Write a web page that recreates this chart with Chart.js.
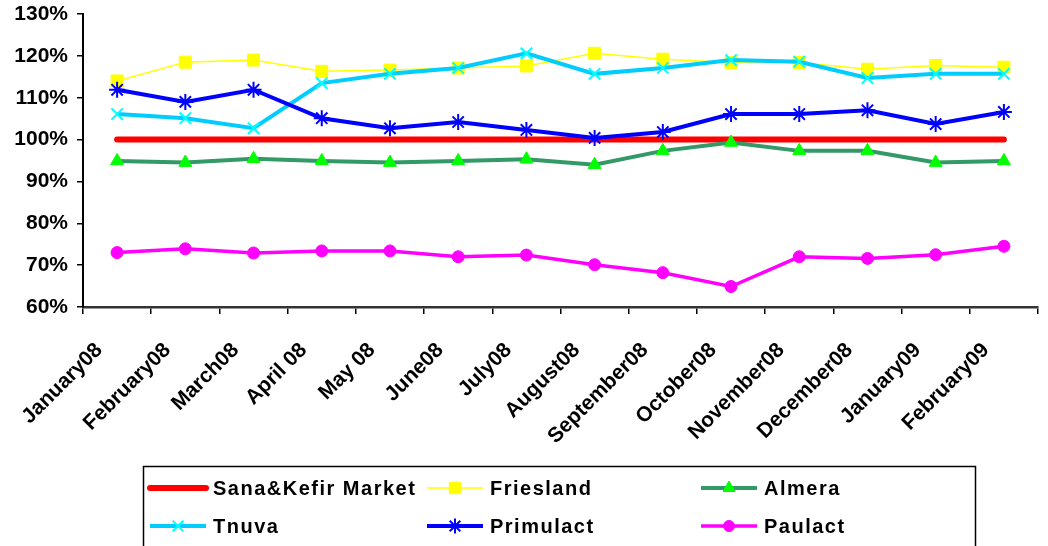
<!DOCTYPE html>
<html>
<head>
<meta charset="utf-8">
<script src="https://cdn.jsdelivr.net/npm/chart.js@4"></script>
<style>
  html, body { margin: 0; padding: 0; background: #fff; }
  #wrap { width: 1048px; height: 546px; }
</style>
</head>
<body>
<div id="wrap"><canvas id="chart" width="1048" height="546"></canvas></div>
<script>
// ---------- Data ----------
const months = [
  "January08", "February08", "March08", "April 08", "May 08", "June08", "July08",
  "August08", "September08", "October08", "November08", "December08", "January09", "February09"
];
const market    = [100, 100, 100, 100, 100, 100, 100, 100, 100, 100, 100, 100, 100, 100];
const friesland = [114.0, 118.5, 119.0, 116.3, 116.6, 117.1, 117.6, 120.6, 119.2, 118.4, 118.4, 116.8, 117.7, 117.3];
const almera    = [94.9, 94.5, 95.4, 94.9, 94.5, 94.9, 95.3, 94.0, 97.3, 99.3, 97.3, 97.3, 94.5, 94.9];
const tnuva     = [106.1, 105.1, 102.7, 113.5, 115.7, 117.1, 120.6, 115.7, 117.1, 119.0, 118.6, 114.7, 115.7, 115.7];
const primulact = [111.9, 109.0, 111.9, 105.1, 102.7, 104.2, 102.3, 100.4, 101.8, 106.1, 106.1, 107.0, 103.7, 106.6];
const paulact   = [73.0, 73.9, 72.9, 73.4, 73.4, 72.0, 72.4, 70.1, 68.2, 64.9, 72.0, 71.6, 72.5, 74.5];

const FONT = "'Liberation Sans', Arial, sans-serif";

// ---------- Legend (drawn in canvas, Excel style box) ----------
const boxLegend = {
  id: "boxLegend",
  afterDraw(chart) {
    const ctx = chart.ctx;
    ctx.save();
    ctx.strokeStyle = "#000";
    ctx.lineWidth = 1.5;
    ctx.strokeRect(143.5, 466.5, 832, 100);

    const cols = [150, 427, 701];
    const rows = [488, 526];
    // legend entries follow dataset order, 3 per row
    chart.data.datasets.forEach((ds, i) => {
      const x = cols[i % 3], y = rows[Math.floor(i / 3)];
      ctx.strokeStyle = ds.borderColor;
      ctx.lineWidth = ds.borderWidth;
      ctx.lineCap = ds.borderCapStyle || "butt";
      ctx.beginPath();
      ctx.moveTo(x, y);
      ctx.lineTo(x + 56, y);
      ctx.stroke();
      if (ds.pointRadius > 0) {
        ctx.fillStyle = ds.pointBackgroundColor;
        ctx.strokeStyle = ds.pointBorderColor;
        ctx.lineWidth = ds.pointBorderWidth;
        Chart.helpers.drawPoint(ctx, {
          pointStyle: ds.pointStyle, radius: ds.pointRadius - 0.5,
          rotation: 0, borderWidth: ds.pointBorderWidth
        }, x + 28, y);
      }
      ctx.fillStyle = "#000";
      ctx.font = "bold 20px " + FONT;
      ctx.letterSpacing = "1.5px";
      ctx.textBaseline = "middle";
      ctx.textAlign = "left";
      ctx.fillText(ds.label, x + 63, y + 1);
      ctx.letterSpacing = "0px";
    });
    ctx.restore();
  }
};

// ---------- Chart ----------
new Chart(document.getElementById("chart"), {
  type: "line",
  data: {
    labels: months,
    datasets: [
      {
        label: "Sana&Kefir Market", data: market, order: 6,
        borderColor: "#FF0000", borderWidth: 6, borderCapStyle: "round",
        pointRadius: 0
      },
      {
        label: "Friesland", data: friesland, order: 5,
        borderColor: "#FFFF00", borderWidth: 1.5,
        pointStyle: "rect", pointRadius: 8.5,
        pointBackgroundColor: "#FFFF00", pointBorderColor: "#FFFF00", pointBorderWidth: 1
      },
      {
        label: "Almera", data: almera, order: 4,
        borderColor: "#339966", borderWidth: 4,
        pointStyle: "triangle", pointRadius: 7.5,
        pointBackgroundColor: "#00FF00", pointBorderColor: "#00FF00", pointBorderWidth: 1
      },
      {
        label: "Tnuva", data: tnuva, order: 3,
        borderColor: "#00CCFF", borderWidth: 4,
        pointStyle: "crossRot", pointRadius: 8,
        pointBackgroundColor: "#00FFFF", pointBorderColor: "#00FFFF", pointBorderWidth: 2
      },
      {
        label: "Primulact", data: primulact, order: 2,
        borderColor: "#0000FF", borderWidth: 4,
        pointStyle: "star", pointRadius: 8,
        pointBackgroundColor: "#0000FF", pointBorderColor: "#0000FF", pointBorderWidth: 2
      },
      {
        label: "Paulact", data: paulact, order: 1,
        borderColor: "#FF00FF", borderWidth: 3.5,
        pointStyle: "circle", pointRadius: 6,
        pointBackgroundColor: "#FF00FF", pointBorderColor: "#FF00FF", pointBorderWidth: 1
      }
    ]
  },
  options: {
    responsive: false,
    animation: false,
    layout: { padding: { top: 14, right: 7, bottom: 79, left: 0 } },
    plugins: { legend: { display: false }, tooltip: { enabled: false } },
    elements: { line: { tension: 0 } },
    scales: {
      x: {
        offset: true,
        afterFit: s => { s.height = 160; },
        grid: { offset: true, drawOnChartArea: false, color: "#000", lineWidth: 1.5, tickLength: 7 },
        border: { color: "#333", width: 2.5 },
        ticks: {
          color: "#000", font: { family: FONT, size: 21, weight: "bold" },
          minRotation: 45, maxRotation: 45, autoSkip: false, padding: 24, labelOffset: -18
        }
      },
      y: {
        min: 60, max: 130,
        afterFit: s => { s.width = 83; s.paddingTop = 0; },
        grid: { drawOnChartArea: false, color: "#000", lineWidth: 1.5, tickLength: 6 },
        border: { color: "#000", width: 2 },
        ticks: {
          stepSize: 10, color: "#000", padding: 9,
          font: { family: FONT, size: 21, weight: "bold" },
          callback: v => v + "%"
        }
      }
    }
  },
  plugins: [boxLegend]
});
</script>
</body>
</html>
